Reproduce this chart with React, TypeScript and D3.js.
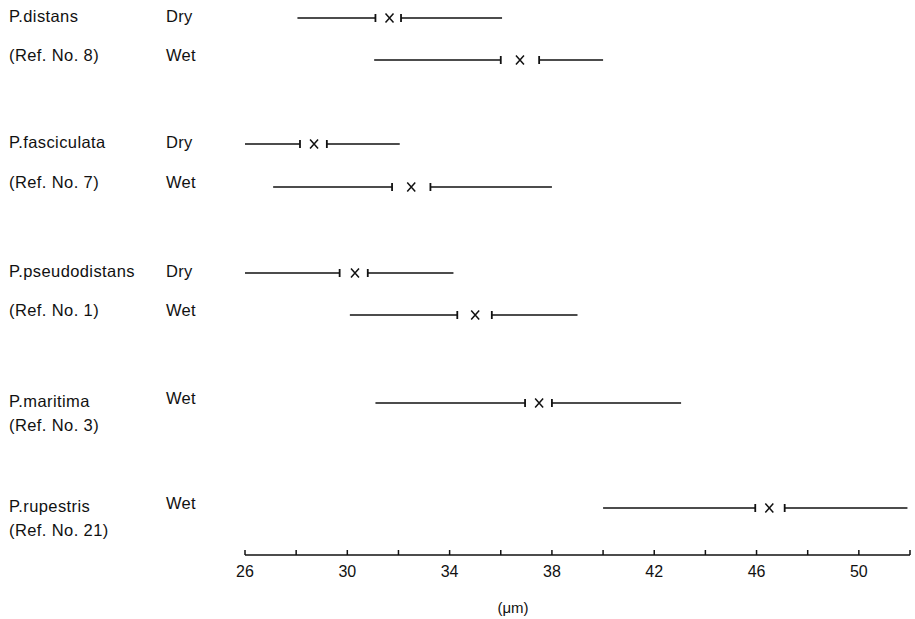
import React from "react";
import { scaleLinear, range } from "d3";

// species groups (left labels)
const speciesNames = ["P.distans", "P.fasciculata", "P.pseudodistans", "P.maritima", "P.rupestris"];
const speciesRefs = ["(Ref. No. 8)", "(Ref. No. 7)", "(Ref. No. 1)", "(Ref. No. 3)", "(Ref. No. 21)"];

// one entry per bar row
const rowGroup = [0, 0, 1, 1, 2, 2, 3, 4];
const rowCondition = ["Dry", "Wet", "Dry", "Wet", "Dry", "Wet", "Wet", "Wet"];
const rowMin = [28.05, 31.05, 26, 27.1, 26, 30.1, 31.1, 40];
const rowLower = [31.1, 36.0, 28.15, 31.75, 29.7, 34.3, 36.95, 45.95];
const rowMean = [31.65, 36.75, 28.7, 32.5, 30.3, 35.0, 37.5, 46.5];
const rowUpper = [32.1, 37.5, 29.2, 33.25, 30.8, 35.65, 38.0, 47.1];
const rowMax = [36.05, 40.0, 32.05, 38.0, 34.15, 39.0, 43.05, 51.9];

// axis
const axisDomain = [26, 52];
const tickValues = range(26, 53, 2);
const labelValues = [26, 30, 34, 38, 42, 46, 50];
const axisTitle = "(\u03bcm)";

// layout
const W = 915;
const H = 619;
const ROW_Y = [18, 60, 144, 187, 273, 315, 403, 508];
const AXIS_Y = 555;
const FONT = "'Liberation Sans', Arial, sans-serif";

export default function App() {
  const x = scaleLinear().domain(axisDomain).range([245, 910]);

  const groupLabels = speciesNames.map((name, g) => {
    const rows = rowGroup.map((gg, i) => (gg === g ? i : -1)).filter((i) => i >= 0);
    const first = ROW_Y[rows[0]] + 4;
    const second = rows.length > 1 ? ROW_Y[rows[1]] + 1 : first + 24;
    return { name, ref: speciesRefs[g], y1: first, y2: second };
  });

  return (
    <svg
      width={W}
      height={H}
      style={{ position: "absolute", left: 0, top: 0, background: "#fff" }}
      fontFamily={FONT}
    >
      <rect width={W} height={H} fill="#fff" />
      {groupLabels.map((d) => (
        <g key={d.name} fill="#111" fontSize={16.5} letterSpacing={0.4}>
          <text x={9} y={d.y1}>{d.name}</text>
          <text x={9} y={d.y2}>{d.ref}</text>
        </g>
      ))}
      {rowCondition.map((c, i) => (
        <text key={"c" + i} x={166} y={ROW_Y[i] + (c === "Dry" ? 4 : 1)} fontSize={16.5} letterSpacing={0.3} fill="#111">
          {c}
        </text>
      ))}
      {rowCondition.map((_, i) => {
        const y = ROW_Y[i];
        const xm = x(rowMean[i]);
        return (
          <g key={"r" + i} stroke="#111" strokeWidth={1.4} fill="none">
            <line x1={x(rowMin[i])} x2={x(rowLower[i])} y1={y} y2={y} />
            <line x1={x(rowLower[i])} x2={x(rowLower[i])} y1={y - 4} y2={y + 4} strokeWidth={1.8} />
            <line x1={x(rowUpper[i])} x2={x(rowMax[i])} y1={y} y2={y} />
            <line x1={x(rowUpper[i])} x2={x(rowUpper[i])} y1={y - 4} y2={y + 4} strokeWidth={1.8} />
            <path d={`M${xm - 4},${y - 4.5}L${xm + 4},${y + 4.5}M${xm + 4},${y - 4.5}L${xm - 4},${y + 4.5}`} strokeWidth={1.5} />
          </g>
        );
      })}
      <g>
        <line x1={x(26)} x2={x(52)} y1={AXIS_Y} y2={AXIS_Y} stroke="#111" strokeWidth={1.5} />
        {tickValues.map((t) => (
          <line key={t} x1={x(t)} x2={x(t)} y1={AXIS_Y} y2={AXIS_Y - 5} stroke="#111" strokeWidth={1.5} />
        ))}
        {labelValues.map((t) => (
          <text key={"l" + t} x={x(t)} y={577} textAnchor="middle" fontSize={16} fill="#111">
            {t}
          </text>
        ))}
        <text x={513} y={613} textAnchor="middle" fontSize={15} fill="#111">
          {axisTitle}
        </text>
      </g>
    </svg>
  );
}
